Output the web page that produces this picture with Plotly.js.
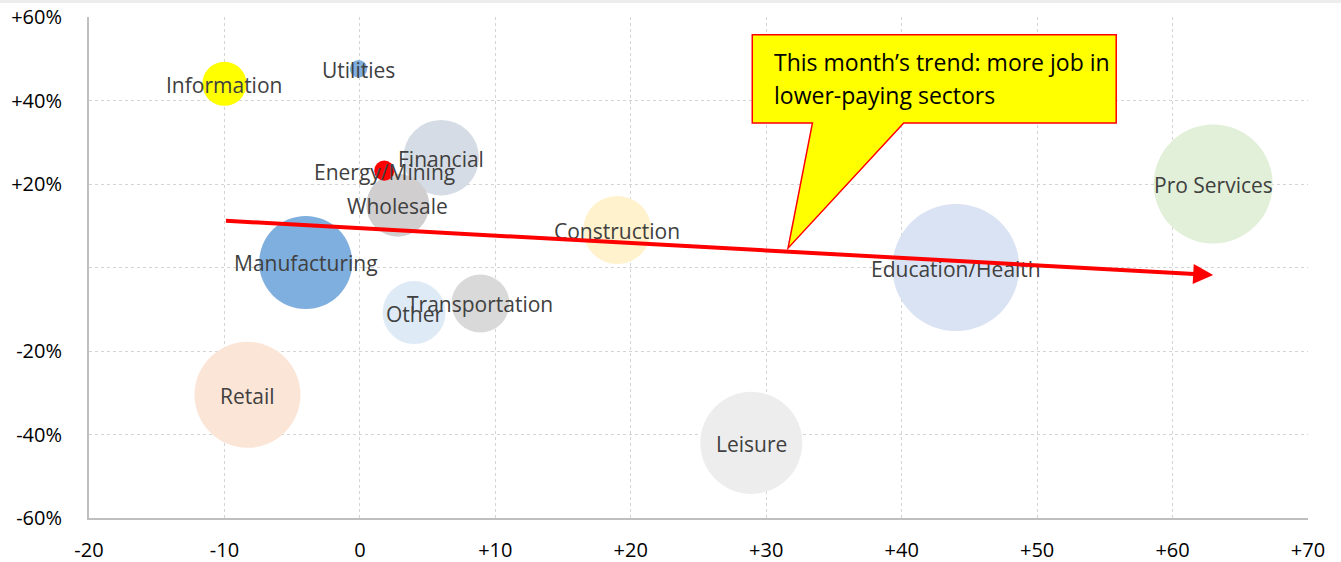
<!DOCTYPE html>
<html>
<head>
<meta charset="utf-8">
<script src="https://cdn.plot.ly/plotly-3.0.1.min.js"></script>
<style>
html,body{margin:0;padding:0;background:#fff;}
#chart{width:1341px;height:562px;position:relative;}
#topband{position:absolute;left:0;top:0;width:1341px;height:3px;background:#EDEDED;z-index:10;}
</style>
</head>
<body>
<div id="topband"></div>
<div id="chart"></div>
<script>
// Sectors
const sectors = ["Pro Services","Education/Health","Retail","Leisure","Manufacturing","Financial","Construction","Wholesale","Other","Transportation","Information","Energy/Mining","Utilities"];
// x: job change this month (thousands), y: relative pay (%)
const jobChange = [63, 44, -8.3, 28.9, -4.0, 6.0, 19.0, 2.8, 4.0, 8.9, -10.0, 1.8, -0.1];
const payDiff   = [20, 0, -30.5, -42, 1.2, 26.3, 9.0, 14.9, -10.8, -8.6, 44, 23.2, 47.6];
// bubble size: employment (millions)
const employment = [21.1, 24.0, 16.7, 15.5, 12.9, 8.5, 6.9, 5.9, 5.9, 5.0, 2.9, 0.6, 0.45];
const bubbleColors = ["#E2F0D9","#DAE3F3","#FBE5D6","#EDEDED","#7FAFDE","#D6DCE5","#FFF2CC","#D0CECE","#DEEBF7","#D9D9D9","#FFFF00","#FF0000","#7FAFDE"];

// trend line
const trendX = [-10, 63];
const trendY = [11.2, -1.8];

// axis ticks
const xTickVals = [-20,-10,0,10,20,30,40,50,60,70];
const xTickText = ["-20","-10","0","+10","+20","+30","+40","+50","+60","+70"];
const yTickVals = [60,40,20,0,-20,-40,-60];
const yTickText = ["+60%","+40%","+20%","","-20%","-40%","-60%"];

const calloutText1 = "This month’s trend: more job in";
const calloutText2 = "lower-paying sectors";

const sizeref = 24.0 / (2 * 63.5 * 63.5);

const trace = {
  type: "scatter",
  mode: "markers",
  x: jobChange,
  y: payDiff,
  text: sectors,
  marker: {
    size: employment,
    sizemode: "area",
    sizeref: sizeref,
    color: bubbleColors,
    opacity: 1,
    line: {width: 0}
  },
  hoverinfo: "text",
  cliponaxis: false
};

const labelAnnotations = sectors.map((s, i) => ({
  xref: "x", yref: "y", x: jobChange[i], y: payDiff[i],
  text: s, showarrow: false, xanchor: "center", yanchor: "middle", yshift: -1,
  font: {family: "Open Sans, sans-serif", size: 21, color: "#404040"}
}));

const layout = {
  width: 1341,
  height: 562,
  margin: {l: 89, r: 33, t: 17, b: 44, pad: 0},
  paper_bgcolor: "#ffffff",
  plot_bgcolor: "#ffffff",
  showlegend: false,
  xaxis: {
    range: [-20, 70],
    tickvals: xTickVals,
    ticktext: xTickText,
    showgrid: true,
    gridcolor: "#D4D4D4",
    griddash: "dot",
    gridwidth: 1,
    zeroline: false,
    showline: true,
    linecolor: "#BFBFBF",
    linewidth: 2,
    ticks: "",
    ticklabelstandoff: 13,
    tickfont: {family: "Open Sans, sans-serif", size: 20, color: "#000000"}
  },
  yaxis: {
    range: [-60, 60],
    tickvals: yTickVals,
    ticktext: yTickText,
    showgrid: true,
    gridcolor: "#D4D4D4",
    griddash: "dot",
    gridwidth: 1,
    zeroline: false,
    showline: true,
    linecolor: "#BFBFBF",
    linewidth: 2,
    ticks: "",
    ticklabelstandoff: 21,
    tickfont: {family: "Open Sans, sans-serif", size: 20, color: "#000000"}
  },
  shapes: [
    {
      type: "path",
      xref: "x", yref: "y",
      path: "M 28.97,55.76 L 55.84,55.76 L 55.84,34.6 L 40.15,34.6 L 31.61,4.63 L 33.41,34.6 L 28.97,34.6 Z",
      fillcolor: "#FFFF00",
      line: {color: "#FF0000", width: 1.5},
      layer: "above"
    }
  ],
  annotations: labelAnnotations.concat([
    {
      xref: "x", yref: "y", axref: "x", ayref: "y",
      x: trendX[1], y: trendY[1], ax: trendX[0], ay: trendY[0],
      text: "", showarrow: true,
      arrowhead: 2, arrowsize: 1, arrowwidth: 4, arrowcolor: "#FF0000"
    },
    {
      xref: "x", yref: "y", x: 30.4, y: 49.2, xanchor: "left", yanchor: "middle",
      text: calloutText1, showarrow: false,
      font: {family: "Open Sans, sans-serif", size: 23, color: "#000000"}
    },
    {
      xref: "x", yref: "y", x: 30.4, y: 41.3, xanchor: "left", yanchor: "middle",
      text: calloutText2, showarrow: false,
      font: {family: "Open Sans, sans-serif", size: 23, color: "#000000"}
    }
  ])
};

Plotly.newPlot("chart", [trace], layout, {displayModeBar: false, staticPlot: true});
</script>
</body>
</html>
